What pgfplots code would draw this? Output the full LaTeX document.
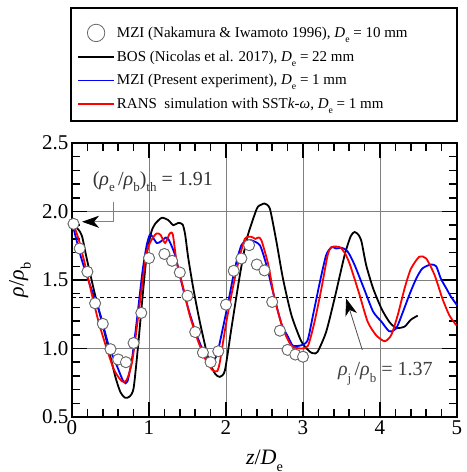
\documentclass[border=0pt]{standalone}
\usepackage{fontspec}
\setmainfont{Liberation Serif}
\usepackage{pgfplots}
\pgfplotsset{compat=1.18}
\usetikzlibrary{arrows.meta}
\makeatletter
\newcommand\sub[1]{\raisebox{-0.7ex}{\fontsize{\fpeval{0.65*\f@size}}{0}\selectfont #1}}
\makeatother
\newcommand\rh{\textit{ρ}}
\pgfplotsset{
  circlegend/.style={legend image code/.code={\path[draw=none] (0bp,0bp) -- (36bp,0bp);
    \draw[only marks, mark=*, mark size=8.7bp, mark options={draw=black!60, fill=white, line width=0.8bp}] plot coordinates {(18bp,0bp)};}},
  linelegend/.style={legend image code/.code={\draw[draw=#1, line width=1.8bp] (0bp,0bp) -- (36bp,0bp);}},
}

\pgfplotstableread{
x y
0.02 1.91
0.10 1.73
0.20 1.56
0.30 1.33
0.40 1.18
0.50 0.995
0.60 0.92
0.70 0.90
0.80 1.04
0.90 1.26
1.00 1.66
1.20 1.69
1.30 1.64
1.40 1.555
1.50 1.385
1.60 1.12
1.70 0.97
1.80 0.90
1.90 0.98
2.00 1.32
2.10 1.567
2.20 1.657
2.30 1.754
2.40 1.613
2.50 1.57
2.60 1.34
2.70 1.13
2.80 0.99
2.90 0.956
3.00 0.94
}\nakamura

\pgfplotstableread{
x y
0.00 1.90
0.08 1.87
0.13 1.82
0.19 1.66
0.30 1.39
0.43 1.10
0.56 0.80
0.63 0.68
0.69 0.64
0.75 0.65
0.80 0.71
0.855 1.00
0.915 1.37
0.97 1.68
1.03 1.85
1.08 1.91
1.166 1.954
1.25 1.937
1.316 1.90
1.38 1.917
1.437 1.905
1.47 1.83
1.51 1.66
1.575 1.44
1.66 1.195
1.77 0.927
1.856 0.818
1.92 0.793
1.986 0.84
2.07 1.146
2.18 1.535
2.27 1.80
2.40 2.02
2.46 2.05
2.504 2.058
2.57 2.02
2.655 1.78
2.74 1.51
2.85 1.243
2.98 1.05
3.09 0.976
3.14 0.965
3.19 0.976
3.30 1.12
3.41 1.365
3.54 1.68
3.62 1.82
3.67 1.85
3.72 1.83
3.76 1.78
3.82 1.61
3.91 1.44
4.02 1.29
4.12 1.195
4.21 1.15
4.32 1.16
4.40 1.21
4.49 1.24
}\bos

\pgfplotstableread{
x y
0.00 1.91
0.02 1.90
0.085 1.80
0.17 1.61
0.26 1.39
0.345 1.195
0.45 1.00
0.55 0.84
0.65 0.76
0.71 0.77
0.78 0.90
0.84 1.146
0.905 1.44
0.97 1.706
1.04 1.80
1.10 1.84
1.15 1.83
1.21 1.77
1.27 1.84
1.31 1.83
1.36 1.63
1.446 1.44
1.53 1.24
1.64 1.05
1.75 0.90
1.83 0.84
1.886 0.835
1.92 0.90
1.99 1.146
2.07 1.39
2.16 1.63
2.245 1.80
2.33 1.815
2.38 1.80
2.42 1.81
2.46 1.79
2.55 1.61
2.63 1.365
2.74 1.146
2.85 1.02
2.98 1.00
3.065 1.02
3.15 1.195
3.24 1.44
3.32 1.68
3.37 1.74
3.475 1.74
3.54 1.70
3.605 1.62
3.73 1.40
3.84 1.195
3.95 1.097
4.06 1.053
4.145 1.097
4.23 1.243
4.32 1.44
4.40 1.58
4.51 1.67
4.60 1.657
4.71 1.535
4.81 1.365
4.90 1.243
4.99 1.17
}\rans

\pgfplotstableread{
x y
0.00 1.90
0.02 1.876
0.11 1.68
0.19 1.535
0.28 1.39
0.37 1.243
0.475 1.024
0.58 0.878
0.67 0.757
0.72 0.76
0.78 0.927
0.84 1.195
0.915 1.56
0.97 1.754
1.01 1.83
1.04 1.82
1.10 1.77
1.15 1.78
1.22 1.81
1.26 1.79
1.34 1.68
1.42 1.487
1.51 1.29
1.62 1.097
1.73 0.95
1.81 0.90
1.88 0.95
1.94 1.097
2.03 1.34
2.115 1.584
2.20 1.754
2.29 1.79
2.33 1.79
2.44 1.754
2.525 1.61
2.61 1.414
2.72 1.18
2.806 1.085
2.87 1.02
2.98 1.024
3.06 1.06
3.13 1.243
3.22 1.487
3.30 1.68
3.37 1.74
3.43 1.73
3.50 1.735
3.56 1.72
3.60 1.69
3.67 1.61
3.79 1.44
3.91 1.27
4.02 1.195
4.12 1.126
4.21 1.146
4.30 1.27
4.38 1.39
4.47 1.51
4.55 1.584
4.66 1.613
4.73 1.60
4.79 1.51
4.86 1.44
4.92 1.38
5.00 1.316
}\mzi

\begin{document}
\begin{tikzpicture}
\path[use as bounding box] (-72bp,-55bp) rectangle (395bp,417bp);
\begin{axis}[
  scale only axis, width=385bp, height=274bp,
  xmin=0, xmax=5, ymin=0.5, ymax=2.5,
  xtick={0,1,2,3,4,5}, ytick={0.5,1,1.5,2,2.5},
  minor x tick num=4, minor y tick num=4,
  tick align=inside,
  major tick length=15bp, minor tick length=8bp,
  every tick/.style={black, line width=1.5bp},
  axis line style={line width=1.8bp},
  grid=major, major grid style={gray, line width=0.8bp},
  /pgf/number format/assume math mode=true,
  yticklabel style={/pgf/number format/fixed, /pgf/number format/fixed zerofill, /pgf/number format/precision=1},
  ticklabel style={font=\fontsize{21bp}{24bp}\selectfont},
  xlabel={\textit{z}/\textit{D}\sub{e}},
  xlabel style={font=\fontsize{22bp}{24bp}\selectfont, at={(axis description cs:0.5,0)}, anchor=base, yshift=-47bp},
  ylabel={\rh/\rh\sub{b}},
  ylabel style={font=\fontsize{22bp}{24bp}\selectfont, at={(axis description cs:-0.135,0.5)}, anchor=center},
  clip=false,
  legend cell align=left,
  legend style={at={(0,1)}, anchor=south west, xshift=-1bp, yshift=20bp,
    draw=none, fill=none, font=\fontsize{15bp}{17bp}\selectfont,
    inner xsep=6bp, inner ysep=11bp, row sep=7.5bp, cells={inner xsep=5bp}},
]
\addplot[forget plot, black, line width=1.2bp, dash pattern=on 4bp off 3bp] coordinates {(0,1.37) (5,1.37)};

\addplot[only marks, mark=*, mark size=5.5bp, mark options={draw=black!60, fill=white, line width=0.8bp}, circlegend] table {\nakamura};
\addlegendentry{\makebox[318bp][l]{MZI (Nakamura \& Iwamoto 1996), \textit{D}\sub{e} = 10 mm}}

\addplot[black, line width=1.8bp, smooth, tension=0.4, linelegend=black] table {\bos};
\addlegendentry{BOS (Nicolas et al. 2017), \textit{D}\sub{e} = 22 mm}

\addplot[blue, line width=1.8bp, smooth, tension=0.4, linelegend=blue] table {\mzi};
\addlegendentry{MZI (Present experiment), \textit{D}\sub{e} = 1 mm}

\addplot[red, line width=1.8bp, smooth, tension=0.4, linelegend=red] table {\rans};
\addlegendentry{RANS\ \ simulation with SST\textit{k}-\textit{ω}, \textit{D}\sub{e} = 1 mm}

% same Nakamura table drawn again so the circles lie on top of the curves
\addplot[forget plot, only marks, mark=*, mark size=5.5bp, mark options={draw=black!60, fill=white, line width=0.8bp}] table {\nakamura};

\node[anchor=base, text=black!80, font=\fontsize{20bp}{22bp}\selectfont] at (axis cs:1.05,2.19) {(\rh\sub{e}\,/\rh\sub{b})\sub{th} = 1.91};
\draw[gray, line width=0.8bp, -{Stealth[black, fill=black, length=17bp, width=12bp, inset=5bp]}] (axis cs:0.54,2.07) |- (axis cs:0.13,1.925);
\node[anchor=base, text=black!75, font=\fontsize{20bp}{22bp}\selectfont] at (axis cs:4.07,0.80) {\rh\sub{j}\,/\rh\sub{b} = 1.37};
\draw[gray!60!black, line width=0.8bp, -{Stealth[black, fill=black, length=17bp, width=12bp, inset=5bp]}] (axis cs:3.77,0.99) -- (axis cs:3.56,1.365);
\end{axis}
\draw[black, line width=1.2bp] (-1bp,296bp) rectangle (385bp,409bp);
\end{tikzpicture}
\end{document}
